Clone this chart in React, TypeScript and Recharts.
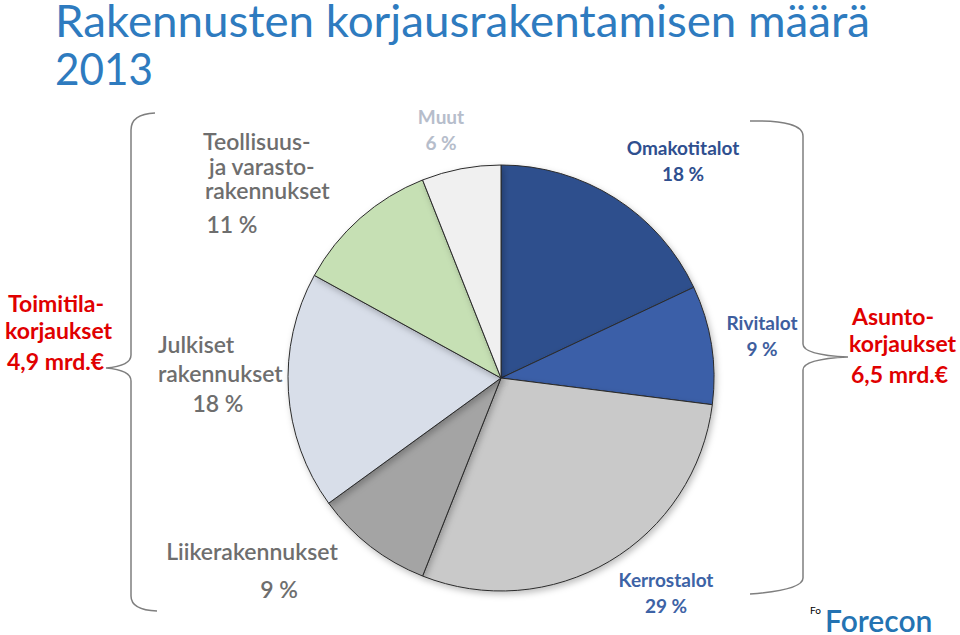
import React from 'react';
import { PieChart, Pie, Cell } from 'recharts';

// shares of renovation volume 2013, clockwise from 12 o'clock
const segments = ['Omakotitalot', 'Rivitalot', 'Kerrostalot', 'Liikerakennukset', 'Julkiset rakennukset', 'Teollisuus- ja varastorakennukset', 'Muut'];
const shares = [18, 9, 29, 9, 18, 11, 6];
const groupNames = ['Asunto-korjaukset', 'Toimitila-korjaukset'];
const groupTotals = ['6,5', '4,9'];

const colors = ['#2E4F8D', '#3A5EA8', '#C9C9C9', '#A4A4A4', '#D8DEE9', '#C6E0B4', '#F0F0F0'];

const data = segments.map((name, i) => ({ name, value: shares[i] }));

const FONT = 'Lato, "Open Sans", sans-serif';

// label layout: lines of each segment label, anchor and baselines
const labelLayout = [
  { lines: ['Omakotitalot'], x: 683, y: 155, anchor: 'middle', color: '#2F4F8F', bold: true, pctX: 683, pctY: 181 },
  { lines: ['Rivitalot'], x: 762, y: 330, anchor: 'middle', color: '#3E5E9E', bold: true, pctX: 762, pctY: 356 },
  { lines: ['Kerrostalot'], x: 666, y: 587, anchor: 'middle', color: '#3D63A6', bold: true, pctX: 666, pctY: 613 },
  { lines: ['Liikerakennukset'], x: 252, y: 560, anchor: 'middle', color: '#6E6E6E', bold: false, pctX: 279, pctY: 598 },
  { lines: ['Julkiset', 'rakennukset'], x: 158, y: 353, anchor: 'start', color: '#6E6E6E', bold: false, pctX: 218, pctY: 412, lineH: 29 },
  { lines: ['Teollisuus-', 'ja varasto-', 'rakennukset'], x: 203, y: 150, anchor: 'start', color: '#6E6E6E', bold: false, pctX: 232, pctY: 233, lineH: 24.5, indent: [0, 6, 2] },
  { lines: ['Muut'], x: 441, y: 124, anchor: 'middle', color: '#B6BDCB', bold: true, pctX: 441, pctY: 150 },
];

const groupLayout = [
  { x: 849, y: 325 },
  { x: 5, y: 312 },
];

const Labels = () => (
  <svg width={960} height={635} style={{ position: 'absolute', left: 0, top: 0, pointerEvents: 'none' }}>
    <text x={55} y={37} fill="#2E7BBF" fontSize={45} fontFamily={FONT} textLength={815} lengthAdjust="spacingAndGlyphs">
      Rakennusten korjausrakentamisen määrä
    </text>
    <text x={55} y={85} fill="#2E7BBF" fontSize={45} fontFamily={FONT} textLength={98} lengthAdjust="spacingAndGlyphs">
      2013
    </text>

    {labelLayout.map((l, i) => (
      <g key={segments[i]} fontFamily={FONT} fill={l.color} fontWeight={l.bold ? 700 : 600} fontSize={l.bold ? 19 : 23}>
        {l.lines.map((line, j) => (
          <text key={j} x={l.x + (l.indent ? l.indent[j] : 0)} y={l.y + j * (l.lineH || 26)} textAnchor={l.anchor}>
            {line}
          </text>
        ))}
        <text x={l.pctX} y={l.pctY} textAnchor="middle">{shares[i]} %</text>
      </g>
    ))}

    {groupLayout.map((g, i) => {
      const [a, b] = groupNames[i].split('-');
      return (
        <g key={groupNames[i]} fontFamily={FONT} fill="#E00000" fontWeight={700} fontSize={23}>
          <text x={g.x + 3} y={g.y}>{a}-</text>
          <text x={g.x} y={g.y + 27}>{b}</text>
          <text x={g.x + 2} y={g.y + 58}>{groupTotals[i]} mrd.€</text>
        </g>
      );
    })}

    {/* left brace */}
    <path
      d="M155,113 Q131,114 131,130 L131,355 Q131,366 106,368 Q131,370 131,381 L131,596 Q131,610 157,611"
      fill="none" stroke="#7F7F7F" strokeWidth={1.5}
    />
    {/* right brace */}
    <path
      d="M750,121 Q803,120 803,136 L803,344 Q803,355 848,357 Q803,359 803,370 L803,578 Q803,590 750,594"
      fill="none" stroke="#7F7F7F" strokeWidth={1.5}
    />

    <text x={810} y={614} fontSize={10} fontFamily={FONT} fill="#000">Fo</text>
    <text x={825} y={632} fontSize={30} fontFamily={FONT} fontWeight={600} fill="#2473B2">Forecon</text>
  </svg>
);

export default function App() {
  return (
    <div style={{ position: 'absolute', left: 0, top: 0, width: 960, height: 635, background: '#fff', overflow: 'hidden' }}>
      <PieChart width={960} height={635}>
        <defs>
          <filter id="pieShadow" x="-10%" y="-10%" width="120%" height="120%">
            <feDropShadow dx={2} dy={3} stdDeviation={3} floodColor="#000" floodOpacity={0.25} />
          </filter>
        </defs>
        <Pie
          data={data}
          dataKey="value"
          nameKey="name"
          cx={496}
          cy={373}
          outerRadius={213}
          startAngle={90}
          endAngle={-270}
          stroke="#2B2B2B"
          strokeWidth={1}
          isAnimationActive={false}
          label={false}
          labelLine={false}
          style={{ filter: 'url(#pieShadow)' }}
        >
          {data.map((d, i) => (
            <Cell key={d.name} fill={colors[i]} />
          ))}
        </Pie>
      </PieChart>
      <Labels />
    </div>
  );
}
